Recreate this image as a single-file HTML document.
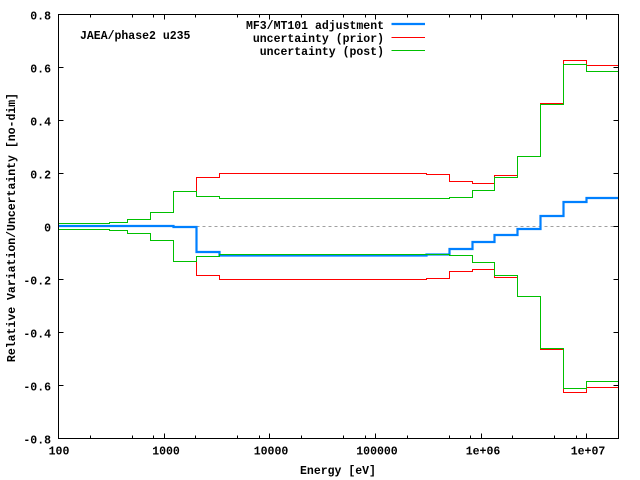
<!DOCTYPE html>
<html><head><meta charset="utf-8"><style>
html,body{margin:0;padding:0;background:#fff;}
svg{display:block;}
text{font-family:"Liberation Mono","DejaVu Sans Mono",monospace;font-weight:bold;font-size:11.5px;fill:#000;}
</style></head><body>
<svg width="640" height="480" viewBox="0 0 640 480" xmlns="http://www.w3.org/2000/svg">
<rect x="0" y="0" width="640" height="480" fill="#fff"/>
<!-- zero line -->
<line x1="58.5" y1="226.5" x2="618.5" y2="226.5" stroke="#a0a0a0" stroke-width="1" stroke-dasharray="3,3"/>
<!-- ticks -->
<g stroke="#000" stroke-width="1" fill="none">
<path d="M58.5 14.5h5M58.5 67.5h5M58.5 120.5h5M58.5 173.5h5M58.5 226.5h5M58.5 279.5h5M58.5 332.5h5M58.5 385.5h5M58.5 438.5h5
M618.5 14.5h-5M618.5 67.5h-5M618.5 120.5h-5M618.5 173.5h-5M618.5 226.5h-5M618.5 279.5h-5M618.5 332.5h-5M618.5 385.5h-5M618.5 438.5h-5"/>
<path d="M164.5 438.5v-5M269.5 438.5v-5M375.5 438.5v-5M481.5 438.5v-5M586.5 438.5v-5
M164.5 14.5v5M269.5 14.5v5M375.5 14.5v5M481.5 14.5v5M586.5 14.5v5"/>
<path d="M90.5 438.5v-3M132.5 438.5v-3M153.5 438.5v-3M195.5 438.5v-3M237.5 438.5v-3M259.5 438.5v-3M301.5 438.5v-3M343.5 438.5v-3M365.5 438.5v-3M407.5 438.5v-3M449.5 438.5v-3M470.5 438.5v-3M512.5 438.5v-3M554.5 438.5v-3M576.5 438.5v-3
M90.5 14.5v3M132.5 14.5v3M153.5 14.5v3M195.5 14.5v3M237.5 14.5v3M259.5 14.5v3M301.5 14.5v3M343.5 14.5v3M365.5 14.5v3M407.5 14.5v3M449.5 14.5v3M470.5 14.5v3M512.5 14.5v3M554.5 14.5v3M576.5 14.5v3"/>
</g>
<!-- blue adjustment -->
<path fill="none" stroke="#0080ff" stroke-width="2.2" d="M58.5 226 H173.5 V227 H196.5 V252 H219.5 V255.5 H426.5 V254.5 H449.5 V249 H472.5 V242 H494.5 V235 H517.5 V229 H540.5 V216 H563.5 V202 H586.5 V198 H618.5"/>
<!-- red prior -->
<path fill="none" stroke="#ff0000" stroke-width="1" d="M58.5 223.5 H109.5 V222.5 H127.5 V219.5 H150.5 V212.5 H173.5 V191.5 H196.5 V177.5 H219.5 V173.5 H426.5 V174.5 H449.5 V181.5 H472.5 V183.5 H494.5 V175.5 H517.5 V156.5 H540.5 V103.5 H563.5 V60.5 H586.5 V65.5 H618.5"/>
<path fill="none" stroke="#ff0000" stroke-width="1" d="M58.5 229.5 H109.5 V230.5 H127.5 V233.5 H150.5 V240.5 H173.5 V261.5 H196.5 V275.5 H219.5 V279.5 H426.5 V278.5 H449.5 V271.5 H472.5 V269.5 H494.5 V277.5 H517.5 V296.5 H540.5 V349.5 H563.5 V392.5 H586.5 V387.5 H618.5"/>
<!-- green post -->
<path fill="none" stroke="#00c000" stroke-width="1" d="M58.5 223.5 H109.5 V222.5 H127.5 V219.5 H150.5 V212.5 H173.5 V191.5 H196.5 V196.5 H219.5 V198.5 H449.5 V197.5 H472.5 V190.5 H494.5 V177.5 H517.5 V156.5 H540.5 V104.5 H563.5 V64.5 H586.5 V71.5 H618.5"/>
<path fill="none" stroke="#00c000" stroke-width="1" d="M58.5 229.5 H109.5 V230.5 H127.5 V233.5 H150.5 V240.5 H173.5 V261.5 H196.5 V256.5 H219.5 V254.5 H449.5 V255.5 H472.5 V262.5 H494.5 V275.5 H517.5 V296.5 H540.5 V348.5 H563.5 V388.5 H586.5 V381.5 H618.5"/>
<!-- frame -->
<rect x="58.5" y="14.5" width="560" height="424" fill="none" stroke="#000" stroke-width="1"/>
<!-- y tick labels -->
<g text-anchor="end">
<text x="51" y="19.5">0.8</text>
<text x="51" y="72.5">0.6</text>
<text x="51" y="125.5">0.4</text>
<text x="51" y="178.5">0.2</text>
<text x="51" y="231.5">0</text>
<text x="51" y="284.5">-0.2</text>
<text x="51" y="337.5">-0.4</text>
<text x="51" y="390.5">-0.6</text>
<text x="51" y="443.5">-0.8</text>
</g>
<!-- x tick labels -->
<g text-anchor="middle">
<text x="59" y="454.5">100</text>
<text x="166" y="454.5">1000</text>
<text x="271" y="454.5">10000</text>
<text x="377" y="454.5">100000</text>
<text x="483" y="454.5">1e+06</text>
<text x="588" y="454.5">1e+07</text>
</g>
<text x="338" y="474" text-anchor="middle">Energy [eV]</text>
<text x="15" y="227.5" text-anchor="middle" transform="rotate(-90 15 227.5)">Relative Variation/Uncertainty [no-dim]</text>
<text x="80" y="39">JAEA/phase2 u235</text>
<!-- legend -->
<g text-anchor="end">
<text x="384" y="29">MF3/MT101 adjustment</text>
<text x="384" y="42">uncertainty (prior)</text>
<text x="384" y="55">uncertainty (post)</text>
</g>
<line x1="391.5" y1="24" x2="425" y2="24" stroke="#0080ff" stroke-width="2.2"/>
<line x1="391.5" y1="37.5" x2="425" y2="37.5" stroke="#ff0000" stroke-width="1"/>
<line x1="391.5" y1="50.5" x2="425" y2="50.5" stroke="#00c000" stroke-width="1"/>
</svg>
</body></html>
